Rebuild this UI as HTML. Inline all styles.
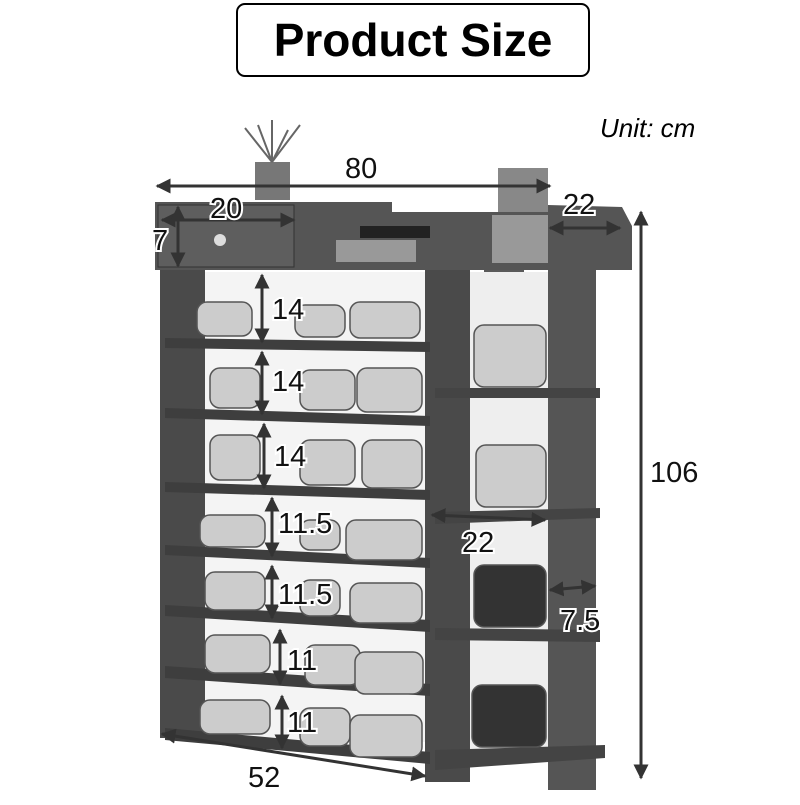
<!DOCTYPE html>
<html><head><style>
body{margin:0;background:#fff;}
svg text{font-family:"Liberation Sans",sans-serif;}
</style></head><body>
<svg width="800" height="800" viewBox="0 0 800 800" xmlns="http://www.w3.org/2000/svg">
<defs>
<marker id="a" viewBox="0 0 10 10" refX="9" refY="5" markerWidth="5" markerHeight="5" orient="auto-start-reverse"><path d="M0,0 L10,5 L0,10 z" fill="#333"/></marker>
</defs>
<rect x="0" y="0" width="800" height="800" fill="#fff"/>
<!-- title -->
<rect x="237" y="4" width="352" height="72" rx="8" fill="#fff" stroke="#000" stroke-width="2"/>
<text x="413" y="56" text-anchor="middle" font-size="46" font-weight="bold" fill="#000">Product Size</text>
<text x="600" y="137" font-size="26" font-style="italic" fill="#000">Unit: cm</text>
<!-- plant -->
<rect x="255" y="162" width="35" height="38" fill="#777"/>
<path d="M272,162 L245,128 M272,162 L300,125 M272,162 L272,120 M272,162 L258,125 M272,162 L288,130" stroke="#666" stroke-width="2"/>
<rect x="498" y="168" width="50" height="70" fill="#888"/>
<!-- back panel light -->
<rect x="205" y="272" width="225" height="470" fill="#f4f4f4"/>
<!-- top -->
<polygon points="155,202 392,202 392,212 548,212 548,205 622,207 632,226 632,270 155,270" fill="#555"/>
<rect x="158" y="205" width="136" height="62" fill="#5e5e5e" stroke="#333"/>
<circle cx="220" cy="240" r="6" fill="#ddd"/>
<rect x="336" y="240" width="80" height="22" fill="#999"/>
<rect x="360" y="226" width="70" height="12" fill="#222"/>
<rect x="492" y="215" width="56" height="48" fill="#999"/>
<!-- posts -->
<rect x="160" y="270" width="45" height="468" fill="#4a4a4a"/>
<rect x="425" y="270" width="45" height="512" fill="#4a4a4a"/>
<rect x="484" y="270" width="40" height="400" fill="#5a5a5a"/>
<rect x="548" y="268" width="48" height="522" fill="#555"/>
<rect x="470" y="272" width="78" height="490" fill="#eee"/>
<!-- left shelves -->
<g fill="#3e3e3e">
<polygon points="165,338 430,342 430,352 165,348"/>
<polygon points="165,408 430,416 430,426 165,418"/>
<polygon points="165,482 430,490 430,500 165,492"/>
<polygon points="165,545 430,558 430,568 165,555"/>
<polygon points="165,605 430,620 430,632 165,616"/>
<polygon points="165,666 430,684 430,696 165,678"/>
<polygon points="165,728 430,752 430,764 165,740"/>
</g>
<!-- right shelves -->
<g fill="#444">
<polygon points="435,388 600,388 600,398 435,398"/>
<polygon points="435,512 600,508 600,518 435,524"/>
<polygon points="435,628 600,630 600,642 435,640"/>
<polygon points="435,750 605,745 605,758 435,770"/>
</g>
<!-- shoes (light blobs) -->
<g fill="#ccc" stroke="#555" stroke-width="1.5">
<rect x="197" y="302" width="55" height="34" rx="10"/><rect x="295" y="305" width="50" height="32" rx="10"/><rect x="350" y="302" width="70" height="36" rx="10"/>
<rect x="210" y="368" width="50" height="40" rx="10"/><rect x="300" y="370" width="55" height="40" rx="10"/><rect x="357" y="368" width="65" height="44" rx="10"/>
<rect x="210" y="435" width="50" height="45" rx="10"/><rect x="300" y="440" width="55" height="45" rx="10"/><rect x="362" y="440" width="60" height="48" rx="10"/>
<rect x="200" y="515" width="65" height="32" rx="10"/><rect x="300" y="520" width="40" height="30" rx="10"/><rect x="346" y="520" width="76" height="40" rx="10"/>
<rect x="205" y="572" width="60" height="38" rx="10"/><rect x="300" y="580" width="40" height="36" rx="10"/><rect x="350" y="583" width="72" height="40" rx="10"/>
<rect x="205" y="635" width="65" height="38" rx="10"/><rect x="305" y="645" width="55" height="40" rx="10"/><rect x="355" y="652" width="68" height="42" rx="10"/>
<rect x="200" y="700" width="70" height="34" rx="10"/><rect x="300" y="708" width="50" height="38" rx="10"/><rect x="350" y="715" width="72" height="42" rx="10"/>
<rect x="474" y="325" width="72" height="62" rx="10"/><rect x="476" y="445" width="70" height="62" rx="10"/>
<rect x="474" y="565" width="72" height="62" rx="10" fill="#333"/><rect x="472" y="685" width="74" height="62" rx="10" fill="#333"/>
</g>
<!-- dimension lines -->
<g stroke="#333" stroke-width="3" fill="none" marker-start="url(#a)" marker-end="url(#a)">
<line x1="157" y1="186" x2="550" y2="186"/>
<line x1="550" y1="228" x2="620" y2="228"/>
<line x1="162" y1="220" x2="294" y2="220"/>
<line x1="178" y1="207" x2="178" y2="266"/>
<line x1="641" y1="212" x2="641" y2="778"/>
<line x1="162" y1="734" x2="425" y2="776"/>
<line x1="262" y1="275" x2="262" y2="342"/>
<line x1="262" y1="352" x2="262" y2="414"/>
<line x1="264" y1="424" x2="264" y2="488"/>
<line x1="272" y1="498" x2="272" y2="556"/>
<line x1="272" y1="566" x2="272" y2="618"/>
<line x1="280" y1="630" x2="280" y2="684"/>
<line x1="282" y1="696" x2="282" y2="748"/>
<line x1="432" y1="515" x2="545" y2="520"/>
<line x1="550" y1="590" x2="595" y2="586"/>
</g>
<g font-size="29" fill="#111" stroke="#fff" stroke-width="4" paint-order="stroke">
<text x="345" y="178">80</text>
<text x="563" y="214">22</text>
<text x="210" y="218">20</text>
<text x="152" y="250">7</text>
<text x="650" y="482">106</text>
<text x="248" y="787">52</text>
<text x="272" y="319">14</text>
<text x="272" y="391">14</text>
<text x="274" y="466">14</text>
<text x="278" y="533">11.5</text>
<text x="278" y="604">11.5</text>
<text x="287" y="670">11</text>
<text x="287" y="732">11</text>
<text x="462" y="552">22</text>
<text x="560" y="630">7.5</text>
</g>
</svg>
</body></html>
